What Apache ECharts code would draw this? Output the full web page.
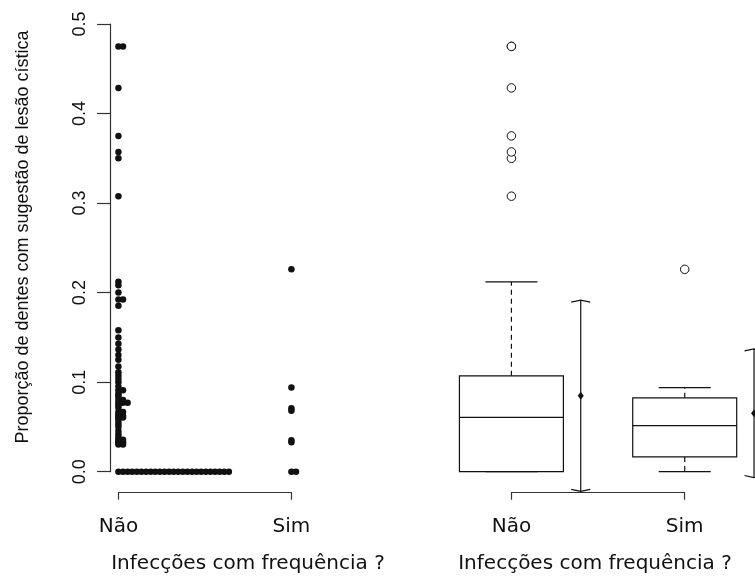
<!DOCTYPE html>
<html>
<head>
<meta charset="utf-8">
<script src="https://cdn.jsdelivr.net/npm/echarts@6/dist/echarts.min.js"></script>
<style>
html, body { margin: 0; background: #fff; }
#chart { width: 755px; height: 578px; }
</style>
</head>
<body>
<div id="chart"></div>
<script>
// groups on the x axis
var groups = ['Não', 'Sim'];
var yTitle = 'Proporção de dentes com sugestão de lesão cística';
var xTitle = 'Infecções com frequência ?';

// proportions per patient
var naoValues = [
	0, 0, 0, 0, 0, 0, 0, 0, 0, 0, 0, 0, 0, 0, 0, 0, 0, 0, 0, 0, 0, 0, 0, 0, 0,
	0.0303, 0.0303, 0.0323, 0.0323, 0.0333, 0.0333, 0.0345, 0.0357, 0.0357,
	0.0385, 0.0417, 0.0455, 0.05, 0.0526, 0.0556, 0.0588, 0.0606, 0.0606,
	0.0625, 0.0625, 0.0645, 0.0667, 0.0667, 0.0714, 0.0741, 0.0769, 0.0769, 0.0769,
	0.08, 0.08, 0.0833, 0.0857, 0.087, 0.0909, 0.0909, 0.0952, 0.1, 0.1034, 0.1071,
	0.1111, 0.1176, 0.125, 0.1304, 0.1364, 0.1429, 0.15, 0.1579,
	0.1852, 0.1923, 0.1923, 0.2, 0.2083, 0.2121,
	0.3077, 0.35, 0.3571, 0.375, 0.4286, 0.475, 0.475
];
var simValues = [0, 0, 0.033, 0.035, 0.068, 0.071, 0.094, 0.226];

// mean and sd bars
var errMean = [0.0848, 0.0653];
var errSd = [0.1068, 0.0718];

var STACK = 0.0266;   // horizontal step between equal values
var INK = '#111';

function stackPoints(values, g) {
	var seen = {};
	return values.map(function (v) {
		var k = seen[v] || 0;
		seen[v] = k + 1;
		return [g + k * STACK, v];
	});
}

// R style fivenum + whiskers
function boxStats(values) {
	var s = values.slice().sort(function (a, b) { return a - b; });
	var n = s.length;
	var n4 = Math.floor((n + 3) / 2) / 2;
	var at = function (k) { return 0.5 * (s[Math.floor(k) - 1] + s[Math.ceil(k) - 1]); };
	var q1 = at(n4), med = at((n + 1) / 2), q3 = at(n + 1 - n4);
	var iqr = q3 - q1;
	var inside = s.filter(function (v) { return v >= q1 - 1.5 * iqr && v <= q3 + 1.5 * iqr; });
	var out = s.filter(function (v) { return v < q1 - 1.5 * iqr || v > q3 + 1.5 * iqr; });
	return { lo: inside[0], q1: q1, med: med, q3: q3, hi: inside[inside.length - 1], out: out };
}

var stats = [boxStats(naoValues), boxStats(simValues)];
var outliers = [];
stats.forEach(function (st, i) {
	st.out.forEach(function (v) { outliers.push([i + 1, v]); });
});

function seg(a, b, dash) {
	return {
		type: 'line',
		shape: { x1: a[0], y1: a[1], x2: b[0], y2: b[1] },
		style: { stroke: INK, lineWidth: 1.2, lineDash: dash || null }
	};
}

function renderBox(params, api) {
	var i = api.value(0);
	var st = stats[i];
	var x = i + 1;
	var tl = api.coord([x - 0.3, st.q3]);
	var br = api.coord([x + 0.3, st.q1]);
	var c = api.coord([x, 0])[0];
	var ml = api.coord([x - 0.3, st.med]), mr = api.coord([x + 0.3, st.med]);
	var hi = api.coord([x, st.hi]), lo = api.coord([x, st.lo]);
	var sw = api.coord([x + 0.15, 0])[0] - c;
	return {
		type: 'group',
		children: [
			{ type: 'rect', shape: { x: tl[0], y: tl[1], width: br[0] - tl[0], height: br[1] - tl[1] },
				style: { fill: 'transparent', stroke: INK, lineWidth: 1.2 } },
			seg(ml, mr),
			seg([c, tl[1]], hi, [5, 4]),
			seg([c, br[1]], lo, [5, 4]),
			seg([c - sw, hi[1]], [c + sw, hi[1]]),
			seg([c - sw, lo[1]], [c + sw, lo[1]])
		]
	};
}

function renderErr(params, api) {
	var i = api.value(0);
	var x = i + 1.4;
	var top = api.coord([x, errMean[i] + errSd[i]]);
	var bot = api.coord([x, errMean[i] - errSd[i]]);
	var mid = api.coord([x, errMean[i]]);
	var w = 9.5;
	return {
		type: 'group',
		children: [
			seg(top, bot),
			{ type: 'polyline', shape: { points: [[top[0] - w, top[1] + 2], top, [top[0] + w, top[1] + 2]] },
				style: { stroke: INK, lineWidth: 1.2, fill: null } },
			{ type: 'polyline', shape: { points: [[bot[0] - w, bot[1] - 2], bot, [bot[0] + w, bot[1] - 2]] },
				style: { stroke: INK, lineWidth: 1.2, fill: null } },
			{ type: 'polygon', shape: { points: [[mid[0], mid[1] - 4], [mid[0] + 3, mid[1]], [mid[0], mid[1] + 4], [mid[0] - 3, mid[1]]] },
				style: { fill: INK } }
		]
	};
}

var hidden = { show: false };
var groupLabel = {
	color: INK, fontFamily: 'DejaVu Sans', fontSize: 20, margin: 24,
	formatter: function (v) { return groups[v - 1]; }
};
var groupAxis = function (gi) {
	return {
		type: 'value', gridIndex: gi, min: 1, max: 2, interval: 1,
		axisLine: { lineStyle: { color: '#333', width: 1.2 } },
		axisTick: { length: 7, lineStyle: { color: '#333', width: 1.2 } },
		axisLabel: groupLabel, splitLine: hidden
	};
};

var chart = echarts.init(document.getElementById('chart'));
chart.setOption({
	animation: false,
	backgroundColor: '#fff',
	grid: [
		{ left: 110, top: 24, width: 278.3, height: 447.7 },
		{ left: 118.4, top: 480, width: 173, height: 12.7 },
		{ left: 410.9, top: 24, width: 344, height: 447.7 },
		{ left: 511.4, top: 480, width: 173.3, height: 12.7 }
	],
	xAxis: [
		{ type: 'value', gridIndex: 0, min: 0.9514, max: 2.56, show: false },
		groupAxis(1),
		{ type: 'value', gridIndex: 2, min: 0.42, max: 2.405, show: false },
		groupAxis(3)
	],
	yAxis: [
		{
			type: 'value', gridIndex: 0, min: 0, max: 0.5, interval: 0.1,
			axisLine: { show: true, lineStyle: { color: '#333', width: 1.2 } },
			axisTick: { show: true, length: 13, lineStyle: { color: '#333', width: 1.2 } },
			axisLabel: {
				rotate: 90, margin: 21, color: INK, fontFamily: 'Liberation Sans', fontSize: 18,
				formatter: function (v) { return v.toFixed(1); }
			},
			splitLine: hidden
		},
		{ type: 'value', gridIndex: 1, show: false },
		{ type: 'value', gridIndex: 2, min: 0, max: 0.5, show: false },
		{ type: 'value', gridIndex: 3, show: false }
	],
	series: [
		{
			type: 'scatter', xAxisIndex: 0, yAxisIndex: 0, clip: false,
			symbolSize: 6.5, itemStyle: { color: INK, opacity: 1 },
			data: stackPoints(naoValues, 1).concat(stackPoints(simValues, 2))
		},
		{
			type: 'custom', xAxisIndex: 2, yAxisIndex: 2, clip: false,
			renderItem: renderBox, data: [[0, 0], [1, 0]]
		},
		{
			type: 'custom', xAxisIndex: 2, yAxisIndex: 2, clip: false,
			renderItem: renderErr, data: [[0, 0], [1, 0]]
		},
		{
			type: 'scatter', xAxisIndex: 2, yAxisIndex: 2, clip: false,
			symbol: 'circle', symbolSize: 8.5,
			itemStyle: { color: '#fff', borderColor: INK, borderWidth: 1, opacity: 1 },
			data: outliers
		}
	],
	graphic: [
		{ type: 'text', x: 23, y: 237, rotation: Math.PI / 2, silent: true,
			style: { text: yTitle, fill: INK, font: '18px "Liberation Sans"', align: 'center', verticalAlign: 'middle',
				textAlign: 'center', textVerticalAlign: 'middle' } },
		{ type: 'text', x: 248, y: 564, silent: true,
			style: { text: xTitle, fill: INK, font: '20px "DejaVu Sans"', align: 'center', verticalAlign: 'middle',
				textAlign: 'center', textVerticalAlign: 'middle' } },
		{ type: 'text', x: 595, y: 564, silent: true,
			style: { text: xTitle, fill: INK, font: '20px "DejaVu Sans"', align: 'center', verticalAlign: 'middle',
				textAlign: 'center', textVerticalAlign: 'middle' } }
	]
});
</script>
</body>
</html>
